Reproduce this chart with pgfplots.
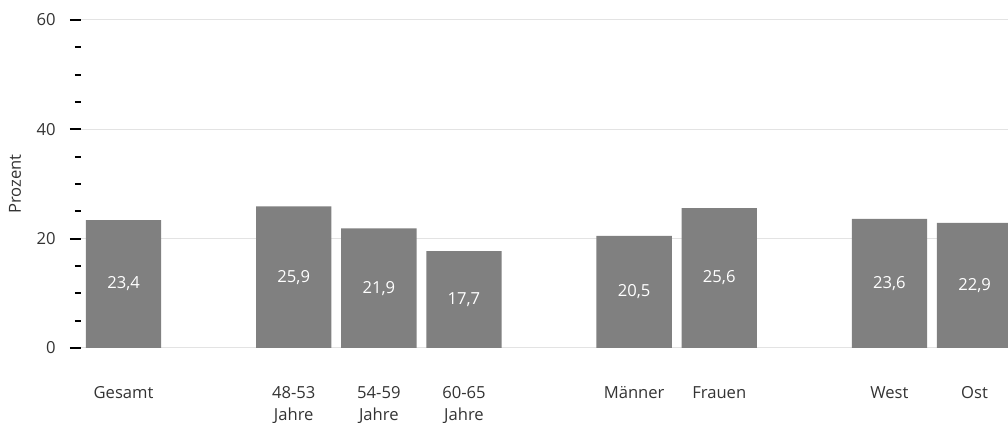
\documentclass[border=0pt]{standalone}
\usepackage{pgfplots}
\pgfplotsset{compat=1.18}
\usepackage{fontspec}
\setmainfont{Open Sans}
\definecolor{barg}{HTML}{808080}
\definecolor{txt}{HTML}{333333}
\definecolor{gridg}{HTML}{E3E3E3}
\newcommand{\ts}{\vphantom{Ä}}
\begin{document}
\fontsize{8.3}{11}\selectfont
\begin{tikzpicture}
\useasboundingbox (0,0) rectangle (504pt,211.5pt);
\begin{axis}[
at={(40.5pt,37.5pt)},
anchor=south west,
scale only axis,
width=463.5pt,
height=164pt,
xmin=-0.5, xmax=10.393,
ymin=0, ymax=60,
ybar,
bar width=0.885,
axis line style={draw=none},
xtick={0,2,3,4,6,7,9,10},
xticklabels={\ts Gesamt,{\ts 48-53\\Jahre},{\ts 54-59\\Jahre},{\ts 60-65\\Jahre},\ts M\"anner,\ts Frauen,\ts West,\ts Ost},
xtick style={draw=none},
xticklabel style={align=center, anchor=north, text=txt, yshift=-9.5pt},
ytick={0,20,40,60},
minor y tick num=3,
ytick pos=left,
tick align=outside,
major tick length=5.5pt,
minor tick length=3pt,
ytick style={black, line width=1pt},
every minor tick/.append style={black, line width=1pt},
ymajorgrids,
major grid style={gridg, line width=0.5pt},
yticklabel style={anchor=east, inner sep=0pt, text=txt, xshift=-7pt, /pgf/number format/assume math mode=true},
ylabel={Prozent},
ylabel style={at={(axis description cs:-0.0712,0.5)}, anchor=center, text=txt},
visualization depends on={rawy \as \rawy},
nodes near coords={\pgfmathprintnumber[use comma, fixed, fixed zerofill, precision=1, assume math mode=true]{\pgfplotspointmeta}},
nodes near coords style={anchor=center, text=white, yshift={-\rawy*1.36667pt}},
]
\addplot[fill=barg, draw=none] coordinates {
(0,23.4) (2,25.9) (3,21.9) (4,17.7) (6,20.5) (7,25.6) (9,23.6) (10,22.9)};
\end{axis}
\end{tikzpicture}
\end{document}
